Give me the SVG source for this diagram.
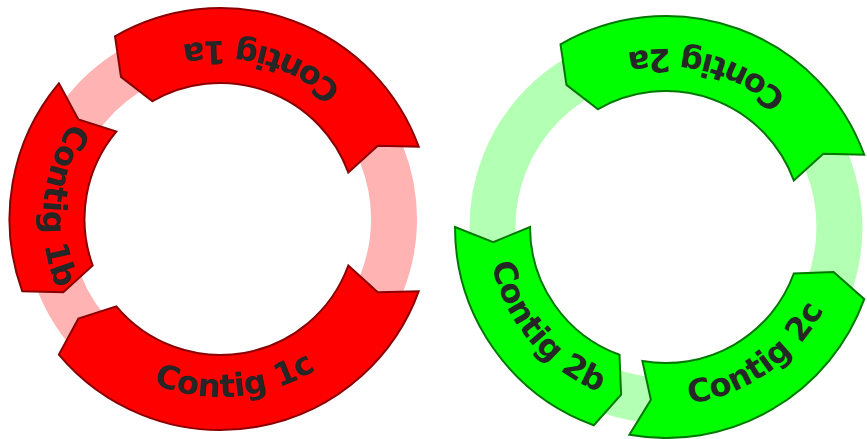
<svg xmlns="http://www.w3.org/2000/svg" width="867" height="439" viewBox="0 0 867 439">
  <style>
    .ringR { fill: none; stroke: #ffb3b3; stroke-width: 46; }
    .ringG { fill: none; stroke: #b3ffb3; stroke-width: 46; }
    .red { fill: #ff0000; stroke: #8b0000; stroke-width: 2; stroke-linejoin: miter; }
    .green { fill: #00ff00; stroke: #007800; stroke-width: 2; stroke-linejoin: miter; }
    .lbl { font-family: "DejaVu Sans", "Liberation Sans", sans-serif; font-weight: bold; font-size: 32px; fill: #262626; }
  </style>
  <defs>
    <path id="tA" d="M 177.32,15.51 A 178 178 0 0 0 -161.32,-75.23"/>
    <path id="tB" d="M -15.51,-177.32 A 178 178 0 0 0 -46.07,171.94"/>
    <path id="tC" d="M -171.94,46.07 A 178 178 0 0 0 177.32,15.51"/>
    <path id="t2B" d="M -136.36,-114.42 A 178 178 0 0 0 89,154.15"/>
    <path id="t2C" d="M -125.87,125.87 A 178 178 0 0 0 161.32,-75.23"/>
  </defs>

  <g id="rings">
    <circle class="ringR" cx="220.5" cy="219" r="173.5"/>
    <circle class="ringG" cx="666" cy="227" r="173.5"/>
  </g>

  <g id="contig1a" transform="translate(220.5,219)">
    <path class="red" d="M 198.27,-72.17 A 211 211 0 0 0 -105.5,-182.74 L -99.52,-142.12 L -68,-117.78 A 136 136 0 0 1 127.8,-46.51 L 157.24,-73.32 Z"/>
    <text class="lbl"><textPath href="#tA" startOffset="50%" text-anchor="middle">Contig 1a</textPath></text>
  </g>
  <g id="contig1b" transform="translate(220.5,219)">
    <path class="red" d="M -161.63,-135.63 A 211 211 0 0 0 -198.27,72.17 L -157.24,73.32 L -127.8,46.51 A 136 136 0 0 1 -104.18,-87.42 L -142.12,-99.52 Z"/>
    <text class="lbl"><textPath href="#tB" startOffset="50%" text-anchor="middle">Contig 1b</textPath></text>
  </g>
  <g id="contig1c" transform="translate(220.5,219)">
    <path class="red" d="M 198.27,72.17 A 211 211 0 0 1 -161.63,135.63 L -142.12,99.52 L -104.18,87.42 A 136 136 0 0 0 127.8,46.51 L 157.24,73.32 Z"/>
    <text class="lbl"><textPath href="#tC" startOffset="50%" text-anchor="middle">Contig 1c</textPath></text>
  </g>

  <g id="contig2a" transform="translate(666,227)">
    <path class="green" d="M 198.27,-72.17 A 211 211 0 0 0 -105.5,-182.74 L -99.52,-142.12 L -68,-117.78 A 136 136 0 0 1 127.8,-46.51 L 157.24,-73.32 Z"/>
    <text class="lbl"><textPath href="#tA" startOffset="50%" text-anchor="middle">Contig 2a</textPath></text>
  </g>
  <g id="contig2b" transform="translate(666,227)">
    <path class="green" d="M -211,0 A 211 211 0 0 0 -72.17,198.27 L -44.91,167.59 L -46.51,127.8 A 136 136 0 0 1 -136,0 L -172.84,15.12 Z"/>
    <text class="lbl"><textPath href="#t2B" startOffset="50%" text-anchor="middle">Contig 2b</textPath></text>
  </g>
  <g id="contig2c" transform="translate(666,227)">
    <path class="green" d="M -36.64,207.79 A 211 211 0 0 0 198.27,72.17 L 167.59,44.91 L 127.8,46.51 A 136 136 0 0 1 -23.62,133.93 L -15.12,172.84 Z"/>
    <text class="lbl"><textPath href="#t2C" startOffset="50%" text-anchor="middle">Contig 2c</textPath></text>
  </g>
</svg>
